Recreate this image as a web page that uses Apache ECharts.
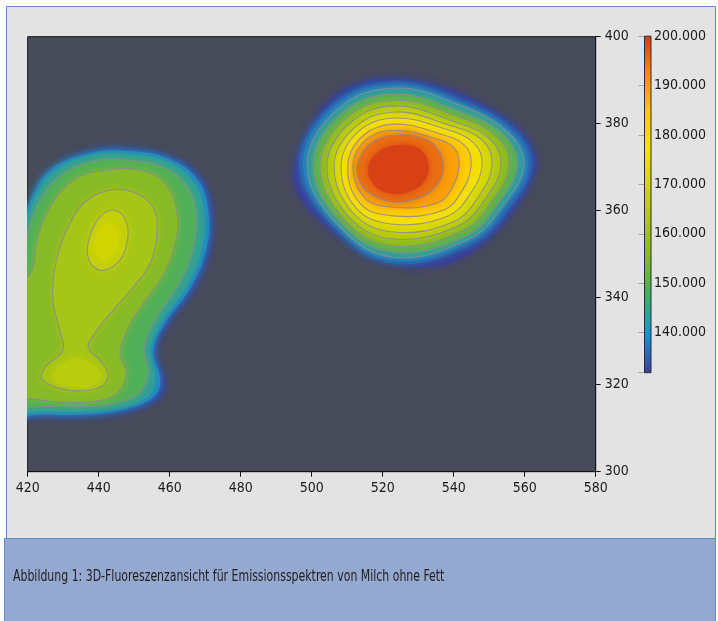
<!DOCTYPE html>
<html>
<head>
<meta charset="utf-8">
<script src="https://cdn.jsdelivr.net/npm/echarts@6/dist/echarts.min.js"></script>
<style>
  html, body { margin: 0; padding: 0; background: #fff; }
  #chart { width: 718px; height: 621px; }
</style>
</head>
<body>
<div id="chart"></div>
<script>
// axes: emission (x) and excitation (y) wavelength in nm
const xRange = [420, 580];
const yRange = [300, 400];
const scaleRange = [131.9, 200];
const scaleColors = ['#3b3f94', '#1e8ed2', '#40ae68', '#80b82a', '#adc712',
  '#d4d600', '#f8e400', '#ffc800', '#f58a10', '#d63c16'];
const lineLevels = [138.7, 145.5, 152.3, 159.1, 165.9, 172.7, 179.5, 186.3, 193.1];
const caption = 'Abbildung 1: 3D-Fluoreszenzansicht für Emissionsspektren von Milch ohne Fett';

// right peak (~523 / 370): contour rings, outermost first
const rightLevels = [128, 133, 136, 138.7, 145.5, 152.3, 159.1, 165.9, 172.7, 179.5, 186.3, 193.1, 197];
const rightPeak = 202;
const rightRings = [
  [[494.8,368.6],[499.5,378.5],[506.1,386.2],[514.5,389.6],[522.1,390.4],[531.4,389.6],[541.8,387.0],[552.1,382.4],[558.7,378.5],[562.4,373.9],[563.4,370.9],[561.5,366.3],[556.8,360.1],[549.3,353.2],[540.8,348.6],[533.3,347.1],[523.9,347.9],[512.7,351.7],[502.3,357.8],[496.7,363.2]],
  [[496.4,370.5],[506.0,384.5],[523.5,389.6],[543.5,385.0],[557.5,378.3],[562.1,370.5],[555.7,360.5],[545.4,352.3],[523,347.9],[506.8,355.8]],
  [[497.5,370.5],[506.6,384.1],[523.5,388.9],[542.9,384.5],[556.4,378.0],[560.9,370.5],[554.6,360.8],[544.9,353.0],[523,348.6],[507.1,356.2]],
  [[498.7,370.5],[507.4,383.4],[523.5,388.2],[542.3,384.1],[555.5,377.8],[559.8,370.5],[553.8,361.1],[544.3,353.5],[523,349.3],[507.7,356.5]],
  [[500.4,370.5],[508.5,382.4],[523.5,386.8],[541.2,382.9],[553.9,377.5],[557.8,370.5],[552.3,361.5],[543.5,354.2],[523,350.5],[508.5,357.1]],
  [[502.3,370.5],[509.7,381.3],[523.5,385.4],[540.1,382.0],[552.1,377.1],[555.6,370.5],[550.6,362.0],[542.3,355.3],[523,351.9],[509.4,357.8]],
  [[504.3,370.5],[511.1,380.4],[523.5,384.1],[539.0,380.8],[550.1,376.6],[553.3,370.5],[548.8,362.6],[541.2,356.5],[523,353.5],[510.2,358.8]],
  [[506.3,370.5],[512.2,379.2],[523.5,382.7],[537.8,379.9],[548.1,376.2],[550.8,370.5],[546.9,363.1],[539.8,357.4],[523,355.1],[511.4,359.7]],
  [[508.3,370.5],[513.3,378.3],[523.5,381.3],[536.7,379.0],[545.6,375.6],[548.0,370.5],[544.6,363.8],[538.4,358.8],[523,356.9],[512.5,360.6]],
  [[510.2,370.5],[514.7,377.4],[523.5,379.9],[535.6,377.8],[543.1,375.0],[544.9,370.5],[542.3,364.5],[537.0,360.1],[523,358.8],[513.6,361.7]],
  [[511.6,370.5],[515.6,376.5],[523.5,378.5],[534.4,376.7],[540.2,374.4],[541.5,370.5],[539.6,365.3],[535.3,361.7],[523,360.8],[515.0,362.9]],
  [[512.8,369.8],[514.7,373.9],[518.7,376.5],[524.3,377.4],[530.5,376.9],[534.8,374.9],[537.0,371.0],[536.2,367.1],[532.8,364.0],[527.1,362.2],[521.5,362.2],[516.4,364.0],[513.6,366.6]],
  [[515.9,369.8],[518.7,373.5],[524.3,375.1],[529.9,374.4],[532.8,371.2],[532.0,367.1],[527.8,364.5],[522.1,364.0],[517.6,365.9]]
];

// left peak (~440 / 350), runs off the left edge
const leftLevels = [128, 136, 141, 145.5, 152.3, 159.1, 163, 165.9, 167.5];
const leftPeak = 171;
const leftRings = [
  [[412.2,345.0],[416.4,352.5],[423.5,362.4],[429.1,370.1],[438.5,373.9],[448.8,374.3],[460.1,372.4],[468.5,367.8],[471.8,360.9],[471.3,350.9],[466.6,341.7],[459.2,333.3],[456.3,327.2],[458.7,321.0],[457.3,317.2],[449.7,314.1],[436.6,312.6],[423.5,312.6],[412.2,312.8]],
  [[412.2,348.2],[417.3,352.8],[420.6,362.0],[426.3,369.3],[437.5,373.2],[448.8,373.7],[459.8,371.9],[467.7,367.3],[470.8,360.4],[470.3,351.2],[465.7,342.2],[458.4,333.9],[455.3,327.5],[457.3,321.5],[455.9,317.5],[448.3,314.6],[436.1,313.2],[423.5,313.2],[412.2,313.4]],
  [[412.2,345.2],[417.8,352.1],[421.2,361.3],[426.8,368.6],[437.0,372.6],[448.8,373.0],[459.6,371.2],[466.8,366.6],[469.7,359.9],[469.1,351.2],[464.9,342.7],[457.8,334.6],[454.5,327.9],[455.9,321.9],[454.5,317.8],[447.1,315.0],[435.9,313.9],[423.5,313.9],[412.2,314.1]],
  [[412.2,341.7],[418.4,350.9],[422.1,360.1],[427.7,367.0],[437.5,371.2],[448.8,371.6],[458.7,369.8],[465.2,365.2],[467.4,359.0],[466.6,351.4],[462.9,343.6],[456.7,336.0],[452.8,328.6],[453.9,322.9],[451.6,318.2],[444.6,315.7],[434.7,315.0],[423.5,315.0],[412.2,315.2]],
  [[415.0,339.4],[421.2,346.3],[422.6,353.2],[426.3,360.8],[432.8,367.0],[441.8,369.3],[451.6,369.3],[458.7,366.3],[462.1,359.0],[461.0,350.9],[457.3,344.0],[452.2,338.3],[448.0,332.5],[446.0,327.2],[447.7,322.6],[445.4,318.2],[440.4,316.4],[431.9,315.9],[420.6,316.8],[415.0,317.3]],
  [[427.1,339.4],[428.3,349.3],[431.9,357.1],[436.7,362.4],[443.2,364.7],[449.7,364.3],[455.3,360.8],[456.4,354.8],[454.5,347.9],[449.7,342.4],[444.0,337.1],[439.5,332.5],[437.0,328.6],[440.4,325.6],[442.6,322.2],[440.4,319.4],[431.9,318.7],[424.3,321.0],[424.9,324.0],[429.9,327.9],[429.1,332.5]],
  [[429.1,324.5],[434.7,326.1],[440.4,322.9],[439.0,320.1],[431.9,319.6],[426.8,321.5]],
  [[444.6,360.1],[447.9,357.1],[447.7,351.7],[445.1,347.9],[440.4,346.3],[437.1,349.0],[437.5,354.0],[440.4,358.6]],
  [[443.7,356.7],[445.4,353.7],[443.7,349.8],[440.4,349.1],[439.0,352.1],[440.4,356.0]]
];

const blobs = [
  { levels: rightLevels, rings: rightRings, peak: rightPeak },
  { levels: leftLevels, rings: leftRings, peak: leftPeak }
];

// each ring is filled with the value of the band it encloses
const fillData = [];
const lineData = [];
blobs.forEach((b, bi) => {
  b.levels.forEach((lv, ri) => {
    const next = ri + 1 < b.levels.length ? b.levels[ri + 1] : b.peak;
    fillData.push([(lv + next) / 2, bi, ri]);
    if (lineLevels.includes(lv)) lineData.push([lv, bi, ri]);
  });
});

const font = "'DejaVu Sans Condensed', 'Liberation Sans', sans-serif";

function ringPoints(api) {
  const ring = blobs[api.value(1)].rings[api.value(2)];
  return ring.map(p => api.coord(p));
}

function renderFill(params, api) {
  const color = api.visual('color');
  return {
    type: 'polygon',
    shape: { points: ringPoints(api), smooth: 0.4 },
    style: { fill: color, shadowBlur: 9, shadowColor: color }
  };
}

function renderLine(params, api) {
  return {
    type: 'polygon',
    shape: { points: ringPoints(api), smooth: 0.4 },
    style: { fill: null, stroke: 'rgba(138,138,150,0.85)', lineWidth: 1.1 }
  };
}

function renderScale(params, api) {
  const cs = params.coordSys;
  const stops = scaleColors.map((c, i) => ({ offset: i / (scaleColors.length - 1), color: c }));
  return {
    type: 'rect',
    shape: { x: cs.x, y: cs.y, width: cs.width, height: cs.height },
    style: {
      fill: new echarts.graphic.LinearGradient(0, 1, 0, 0, stops),
      stroke: '#2a2a3a',
      lineWidth: 1
    }
  };
}

const chart = echarts.init(document.getElementById('chart'));

const option = {
  animation: false,
  graphic: [
    {
      type: 'rect', z: -10,
      shape: { x: 6.5, y: 6.5, width: 709, height: 532 },
      style: { fill: '#e3e3e3', stroke: '#5b8dd3', lineWidth: 1 }
    },
    {
      type: 'rect', z: -10,
      shape: { x: 4.5, y: 538.5, width: 711, height: 90 },
      style: { fill: '#94a8d0', stroke: '#5b8dd3', lineWidth: 1 }
    },
    {
      type: 'text', x: 13, y: 577, scaleX: 0.81,
      style: { text: caption, font: '15px ' + font, fill: '#1e1e1e', verticalAlign: 'middle' }
    }
  ],
  grid: [
    {
      left: 27.7, right: 122.3, top: 36.7, bottom: 149.3,
      show: true, backgroundColor: '#484b5a', borderColor: '#111', borderWidth: 1
    },
    { left: 644.5, width: 6.5, top: 36.2, bottom: 248.3 }
  ],
  xAxis: [
    {
      type: 'value', gridIndex: 0, min: xRange[0], max: xRange[1], interval: 20, z: 10,
      axisLine: { lineStyle: { color: '#111' } },
      axisTick: { length: 5, lineStyle: { color: '#111' } },
      axisLabel: { color: '#1a1a1a', fontSize: 14, fontFamily: font, margin: 10 },
      splitLine: { show: false }
    },
    { type: 'value', gridIndex: 1, min: 0, max: 1, show: false }
  ],
  yAxis: [
    {
      type: 'value', gridIndex: 0, min: yRange[0], max: yRange[1], interval: 20, position: 'right', z: 10,
      axisLine: { lineStyle: { color: '#111' } },
      axisTick: { length: 5, lineStyle: { color: '#111' } },
      axisLabel: { color: '#1a1a1a', fontSize: 14, fontFamily: font, margin: 9 },
      splitLine: { show: false }
    },
    {
      type: 'value', gridIndex: 1, min: scaleRange[0], max: scaleRange[1], position: 'right', z: 10,
      axisLine: { show: false },
      axisTick: { inside: true, length: 6, lineStyle: { color: 'rgba(40,40,0,0.3)' } },
      axisLabel: {
        color: '#1a1a1a', fontSize: 14, fontFamily: font, margin: 3,
        formatter: v => (v % 10 === 0 ? v.toFixed(3) : '')
      },
      splitLine: { show: false }
    }
  ],
  visualMap: {
    type: 'continuous', show: false, seriesIndex: 0, dimension: 0,
    min: scaleRange[0], max: scaleRange[1],
    inRange: { color: scaleColors }
  },
  series: [
    { type: 'custom', xAxisIndex: 0, yAxisIndex: 0, clip: true, data: fillData, renderItem: renderFill },
    { type: 'custom', xAxisIndex: 0, yAxisIndex: 0, clip: true, data: lineData, renderItem: renderLine },
    { type: 'custom', xAxisIndex: 1, yAxisIndex: 1, data: [[0.5, 160]], renderItem: renderScale }
  ]
};

chart.setOption(option);
</script>
</body>
</html>
